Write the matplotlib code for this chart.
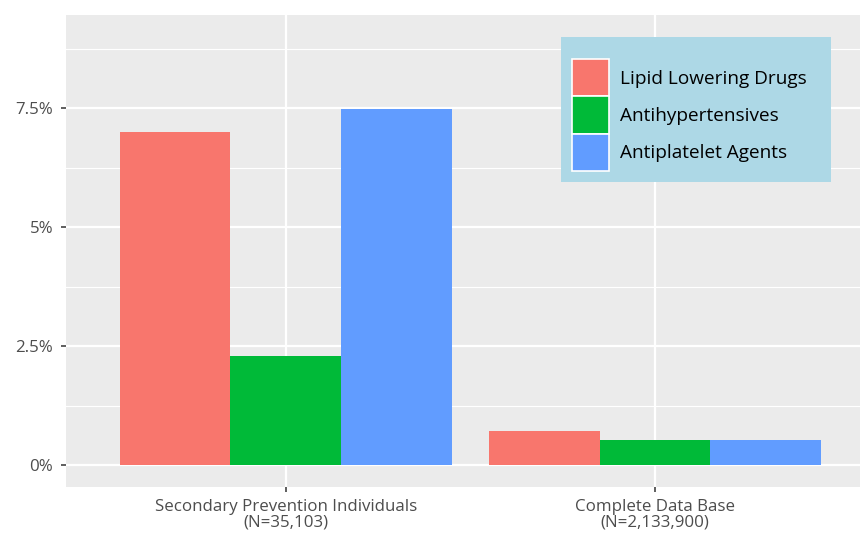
import matplotlib
matplotlib.use("Agg")
import matplotlib.pyplot as plt
import numpy as np
from matplotlib.patches import Patch

groups = ["Secondary Prevention Individuals\n(N=35,103)", "Complete Data Base\n(N=2,133,900)"]
series = ["Lipid Lowering Drugs", "Antihypertensives", "Antiplatelet Agents"]
lipid = [7.0, 0.72]
antihyp = [2.29, 0.52]
antiplat = [7.48, 0.52]
colors = ["#F8766D", "#00BA38", "#619CFF"]
yticks = [0, 2.5, 5, 7.5]
yticklabels = ["0%", "2.5%", "5%", "7.5%"]

plt.rcParams['font.family'] = ['Open Sans', 'DejaVu Sans']

fig = plt.figure(figsize=(8.6, 5.33), dpi=100)
ax = fig.add_axes([66/860, 46/533, 1 - 66/860, (487-15)/533])
ax.set_facecolor("#EBEBEB")

x = np.arange(1, len(groups) + 1)
w = 0.3
for i, (vals, c) in enumerate(zip([lipid, antihyp, antiplat], colors)):
    ax.bar(x + (i - 1) * w, vals, width=w, color=c, zorder=3, linewidth=0)

ax.set_xlim(0.405, 2.555)
ax.set_ylim(-0.462, 9.454)
ax.set_yticks(yticks)
ax.set_yticklabels(yticklabels)
ax.set_yticks([1.25, 3.75, 6.25, 8.75], minor=True)
ax.set_xticks(x)
ax.set_xticklabels(groups, linespacing=1.0)

ax.grid(which="major", color="white", linewidth=1.6, zorder=1)
ax.grid(which="minor", axis="y", color="white", linewidth=0.8, zorder=1)
for s in ax.spines.values():
    s.set_visible(False)
ax.tick_params(axis="both", which="major", length=3.6, width=1.1, color="#333333",
               labelcolor="#4D4D4D", labelsize=12.2)
ax.tick_params(axis="y", which="major", pad=5.5)
ax.tick_params(axis="x", which="major", pad=5)
ax.tick_params(axis="y", which="minor", length=0)

handles = [Patch(facecolor=c, edgecolor="white", linewidth=1.2) for c in colors]
x0 = (561 - 66) / 794
y1 = 1 - (37 - 15) / 472
wl = (831 - 561) / 794
hl = (182 - 37) / 472
leg = ax.legend(handles, series, loc="upper left", bbox_to_anchor=(x0, y1 - hl, wl, hl),
                mode="expand", title=" ", title_fontsize=7,
                frameon=True, fancybox=False, facecolor="#ADD8E6", edgecolor="none", framealpha=1,
                fontsize=13.7, handlelength=1.9, handleheight=2.62, labelspacing=0.0,
                handletextpad=0.6, borderpad=0.6, borderaxespad=0)
leg.set_zorder(5)
for t in leg.get_texts():
    t.set_color("black")

fig.savefig("out.png", dpi=100)
